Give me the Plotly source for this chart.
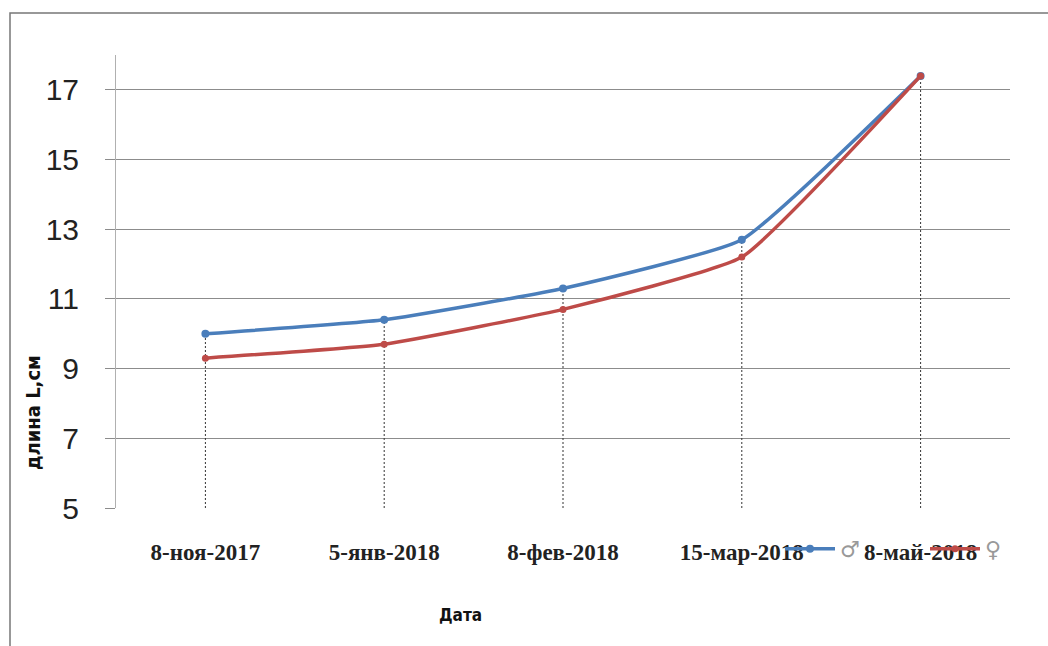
import plotly.graph_objects as go

dates = ["8-ноя-2017", "5-янв-2018", "8-фев-2018", "15-мар-2018", "8-май-2018"]
male = [10.0, 10.4, 11.3, 12.7, 17.4]
female = [9.3, 9.7, 10.7, 12.2, 17.4]
y_ticks = [5, 7, 9, 11, 13, 15, 17]
y_min, y_max = 5, 18

fig = go.Figure()

# drop lines from the top point of each date down to the axis
drop_x, drop_y = [], []
for d, m, f in zip(dates, male, female):
    drop_x += [d, d, None]
    drop_y += [y_min, max(m, f), None]
fig.add_trace(go.Scatter(x=drop_x, y=drop_y, mode="lines", showlegend=False,
                         line=dict(color="#333333", width=1, dash="2px,2px"),
                         hoverinfo="skip"))

fig.add_trace(go.Scatter(x=dates, y=male, name="♂", mode="lines+markers",
                         line=dict(color="#4A7EBB", width=3.5, shape="spline", smoothing=0.4),
                         marker=dict(size=8, color="#4A7EBB")))
fig.add_trace(go.Scatter(x=dates, y=female, name="♀", mode="lines+markers",
                         line=dict(color="#BE4B48", width=3.5, shape="spline", smoothing=0.4),
                         marker=dict(size=7, color="#BE4B48")))

fig.update_layout(
    width=1048, height=646,
    margin=dict(l=116, r=38, t=55, b=138, autoexpand=False),
    paper_bgcolor="white", plot_bgcolor="white",
    showlegend=True,
    legend=dict(orientation="h", x=(780 - 116) / 894, y=(508 - 549) / 453,
                xanchor="left", yanchor="middle",
                bgcolor="rgba(0,0,0,0)", entrywidth=80, entrywidthmode="pixels",
                font=dict(family="DejaVu Sans", size=22, color="#999999"),
                itemwidth=50),
    xaxis=dict(type="category", range=[-0.5, 4.5], showgrid=False, showline=False,
               zeroline=False, ticks="", ticklabelstandoff=28,
               tickfont=dict(family="Liberation Serif", size=23, color="#222222",
                             weight="bold")),
    yaxis=dict(range=[y_min, y_max], tickvals=y_ticks, showgrid=True,
               gridcolor="#8c8c8c", gridwidth=1, zeroline=False,
               showline=True, linecolor="#b0b0b0", linewidth=1,
               ticks="outside", ticklen=10, tickcolor="#8c8c8c",
               ticklabelstandoff=20,
               tickfont=dict(family="Liberation Sans Narrow, Liberation Sans", size=30, color="#222222")),
    annotations=[
        dict(text="<b>длина L,см</b>", textangle=-90, showarrow=False,
             xref="paper", yref="paper",
             x=(33 - 116) / 894, y=(508 - 413) / 453,
             xanchor="center", yanchor="middle",
             font=dict(family="DejaVu Sans Condensed, DejaVu Sans", size=20, color="#111111")),
        dict(text="<b>Дата</b>", showarrow=False,
             xref="paper", yref="paper",
             x=(460 - 116) / 894, y=(508 - 615) / 453,
             xanchor="center", yanchor="middle",
             font=dict(family="DejaVu Sans Condensed, DejaVu Sans", size=17, color="#111111")),
    ],
    shapes=[dict(type="rect", xref="paper", yref="paper",
                 x0=(10 - 116) / 894, x1=(1060 - 116) / 894,
                 y0=(508 - 660) / 453, y1=(508 - 13) / 453,
                 line=dict(color="#777777", width=1.5), layer="below")],
)

fig.write_html("out.html")
